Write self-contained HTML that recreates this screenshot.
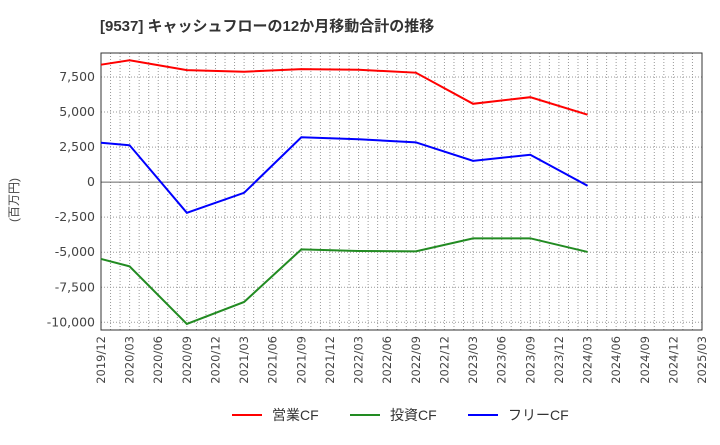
<!DOCTYPE html>
<html><head><meta charset="utf-8"><style>
body{margin:0;background:#fff;}
svg text{font-family:"Liberation Sans","Noto Sans CJK JP",sans-serif;}
svg text.tk{font-family:"DejaVu Sans","Liberation Sans",sans-serif;}
</style></head><body>
<svg id="c" width="720" height="440" xmlns="http://www.w3.org/2000/svg">
<text x="100" y="31" font-size="15" font-weight="bold" fill="#333">[9537]  キャッシュフローの12か月移動合計の推移</text>
<text transform="translate(18,200) rotate(-90)" text-anchor="middle" font-size="12" fill="#444">(百万円)</text>
<g id="grid"></g><g id="axes"></g><g id="series"></g>
<g>
<line x1="232" y1="415" x2="262" y2="415" stroke="#ff0000" stroke-width="2"/>
<text x="272" y="420" font-size="14" fill="#333">営業CF</text>
<line x1="350" y1="415" x2="380" y2="415" stroke="#228b22" stroke-width="2"/>
<text x="390" y="420" font-size="14" fill="#333">投資CF</text>
<line x1="468" y1="415" x2="498" y2="415" stroke="#0000ff" stroke-width="2"/>
<text x="508" y="420" font-size="14" fill="#333">フリーCF</text>
</g>
</svg>
<script>
const xLabels=["2019/12","2020/03","2020/06","2020/09","2020/12","2021/03","2021/06","2021/09","2021/12","2022/03","2022/06","2022/09","2022/12","2023/03","2023/06","2023/09","2023/12","2024/03","2024/06","2024/09","2024/12","2025/03"];
const yTicks=[7500,5000,2500,0,-2500,-5000,-7500,-10000];
const yTickLabels=["7,500","5,000","2,500","0","-2,500","-5,000","-7,500","-10,000"];
const pointIdx=[0,1,3,5,7,9,11,13,15,17];
const operating=[8380,8700,7990,7880,8060,8020,7810,5590,6060,4810];
const investing=[-5480,-6010,-10120,-8550,-4800,-4910,-4940,-4010,-4010,-4980];
const free=[2810,2630,-2190,-760,3200,3060,2840,1520,1950,-260];
const L=101,R=702,T=53,B=330,yMax=9214,yMin=-10550;
const NS="http://www.w3.org/2000/svg";
const xs=q=>L+q*(R-L)/(xLabels.length-1);
const ys=v=>T+(yMax-v)*(B-T)/(yMax-yMin);
function mk(tag,attrs,parent){const e=document.createElementNS(NS,tag);for(const k in attrs)e.setAttribute(k,attrs[k]);parent.appendChild(e);return e;}
const grid=document.getElementById('grid'),axes=document.getElementById('axes'),ser=document.getElementById('series');
for(let m=1;m<(xLabels.length-1)*3;m++){const x=xs(m/3);
const g=mk('line',{x1:x,y1:T,x2:x,y2:B,stroke:'#999','stroke-width':1,'stroke-dasharray':'1,2'},grid);

}
yTicks.forEach((v,i)=>{const y=ys(v);
const g=mk('line',{x1:L,y1:y,x2:R,y2:y,stroke:v===0?'#666':'#999','stroke-width':1,'stroke-dasharray':v===0?'none':'1,2'},grid);


const t=mk('text',{class:'tk',x:L-6,y:y+4,'text-anchor':'end','font-size':12.5,fill:'#444'},axes);t.textContent=yTickLabels[i];

});
xLabels.forEach((s,i)=>{const x=xs(i);
const t=mk('text',{class:'tk',transform:`translate(${x+4},${B+6}) rotate(-90)`,'text-anchor':'end','font-size':11.5,fill:'#444'},axes);t.textContent=s;

});
const frame=mk('rect',{x:L,y:T,width:R-L,height:B-T,fill:'none',stroke:'#333','stroke-width':1},axes);


[[operating,'#ff0000','operating-cf-line'],[investing,'#228b22','investing-cf-line'],[free,'#0000ff','free-cf-line']].forEach(([d,c,n])=>{
const p=mk('polyline',{points:d.map((v,i)=>xs(pointIdx[i])+','+ys(v)).join(' '),fill:'none',stroke:c,'stroke-width':2},ser);

});
</script>
</body></html>
